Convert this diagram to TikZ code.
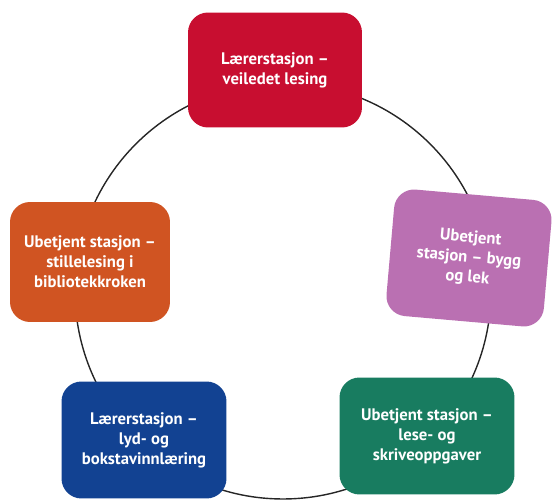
\documentclass[tikz,border=0pt]{standalone}
\usepackage{fontspec}
\setmainfont{PT Sans}
\definecolor{stasjonrod}{RGB}{200,14,48}
\definecolor{stasjonoransje}{RGB}{208,84,34}
\definecolor{stasjonlilla}{RGB}{186,112,178}
\definecolor{stasjonbla}{RGB}{18,66,146}
\definecolor{stasjongronn}{RGB}{24,124,96}
\tikzset{
  stasjon/.style={rounded corners=0.4cm, text=white, align=center, inner sep=0pt,
    font=\bfseries\fontsize{9.5}{11.3}\selectfont}
}
\begin{document}
\begin{tikzpicture}[x=0.02cm, y=-0.02cm]
    \useasboundingbox (0,0) rectangle (552,502);

    % 1. Sirkelen som binder stasjonene sammen
    \draw[line width=0.8pt, black!85] (283,291) circle[radius=208];

    % 2. Stasjonene
    \node[stasjon, fill=stasjonrod, minimum width=3.48cm, minimum height=2.3cm]
        (larer1) at (275,70) {Lærerstasjon –\\veiledet lesing};
    \node[stasjon, fill=stasjonoransje, minimum width=3.2cm, minimum height=2.4cm]
        (stille) at (90,262) {Ubetjent stasjon –\\stillelesing i\\bibliotekkroken};
    \node[stasjon, fill=stasjonlilla, minimum width=3.16cm, minimum height=2.54cm, rotate=-5]
        (bygg) at (469,258) {Ubetjent\\stasjon – bygg\\og lek};
    \node[stasjon, fill=stasjonbla, minimum width=3.3cm, minimum height=2.34cm]
        (larer2) at (144,440) {Lærerstasjon –\\lyd- og\\bokstavinnlæring};
    \node[stasjon, fill=stasjongronn, minimum width=3.5cm, minimum height=2.34cm]
        (skrive) at (427,436) {Ubetjent stasjon –\\lese- og\\skriveoppgaver};

\end{tikzpicture}
\end{document}
